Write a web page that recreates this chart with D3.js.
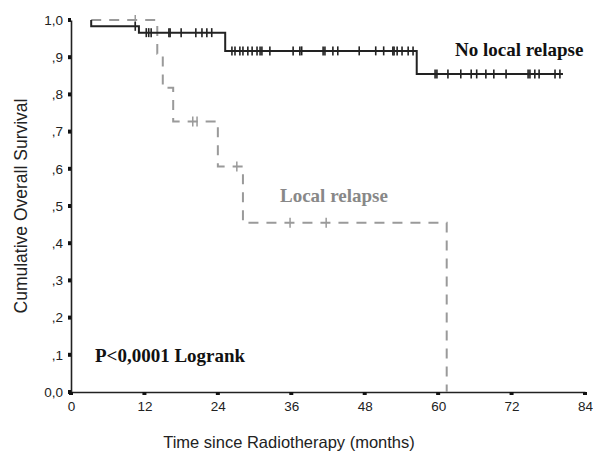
<!DOCTYPE html>
<html>
<head>
<meta charset="utf-8">
<script src="https://cdn.jsdelivr.net/npm/d3@7/dist/d3.min.js"></script>
<style>
  html, body { margin: 0; padding: 0; background: #fff; }
  svg { display: block; }
</style>
</head>
<body>
<svg id="chart" width="593" height="457"></svg>
<script>
// Kaplan-Meier steps: [time in months, survival after that time]
const noRelapseSteps = [[3.3, 1.0], [3.3, 0.983], [11.1, 0.966], [25.2, 0.917], [56.5, 0.855], [80.4, 0.855]];
const noRelapseCensored = [
  10.5, 12.3, 12.7, 13.1, 16.0, 16.2, 18.0, 20.4, 21.4, 22.2, 23.0,
  26.3, 26.8, 27.6, 28.1, 28.9, 29.6, 30.4, 30.9, 31.2, 32.5, 36.3, 37.4, 37.7,
  41.2, 41.5, 42.8, 43.6, 47.1, 49.8, 51.1, 52.6, 52.8, 53.3, 54.1, 55.1, 55.9,
  59.5, 59.8, 61.6, 63.7, 65.4, 66.3, 67.8, 69.1, 71.1, 74.7, 75.0, 75.8, 76.5, 79.1, 79.9
];
const relapseSteps = [[3.3, 1.0], [14.1, 0.909], [15.0, 0.818], [16.7, 0.727], [24.0, 0.606], [28.1, 0.455], [61.4, 0.0]];
const relapseCensored = [10.5, 19.9, 20.6, 27.1, 35.8, 41.7];

const xTicks = [0, 12, 24, 36, 48, 60, 72, 84];
const yTicks = [0, 0.1, 0.2, 0.3, 0.4, 0.5, 0.6, 0.7, 0.8, 0.9, 1.0];
const yTickLabels = ["0,0", ",1", ",2", ",3", ",4", ",5", ",6", ",7", ",8", ",9", "1,0"];

const svg = d3.select("#chart");
const x = d3.scaleLinear().domain([0, 84]).range([71, 585]);
const y = d3.scaleLinear().domain([0, 1]).range([392, 20]);

// survival value at time t for a step list (value before first step = first value)
function survAt(steps, t) {
  let v = steps[0][1];
  for (const [ti, si] of steps) { if (ti <= t) v = si; }
  return v;
}
function stepPath(steps) {
  const pts = [];
  pts.push([steps[0][0], steps[0][1]]);
  for (let i = 1; i < steps.length; i++) {
    pts.push([steps[i][0], steps[i - 1][1]]);
    pts.push([steps[i][0], steps[i][1]]);
  }
  return d3.line().x(d => x(d[0])).y(d => y(d[1]))(pts);
}

const sans = "Liberation Sans, Arial, sans-serif";
const serif = "Liberation Serif, Times New Roman, serif";

// axes
const xAxis = svg.append("g").attr("transform", `translate(0,${y(0)})`)
  .call(d3.axisBottom(x).tickValues(xTicks).tickSize(0).tickPadding(9).tickFormat(d3.format("d")));
const yAxis = svg.append("g").attr("transform", `translate(${x(0)},0)`)
  .call(d3.axisLeft(y).tickValues(yTicks).tickSize(0).tickPadding(8).tickFormat((d, i) => yTickLabels[i]));
[xAxis, yAxis].forEach(g => {
  g.select(".domain").attr("stroke", "#222").attr("stroke-width", 1.6);
  g.selectAll("text").attr("font-family", sans).attr("font-size", 13.5).attr("fill", "#222");
});
// small square tick markers
svg.append("g").selectAll("rect").data(xTicks).join("rect")
  .attr("x", d => x(d) - 2).attr("y", y(0)).attr("width", 4).attr("height", 3).attr("fill", "#111");
svg.append("g").selectAll("rect").data(yTicks).join("rect")
  .attr("x", x(0) - 3).attr("y", d => y(d) - 2).attr("width", 3).attr("height", 4).attr("fill", "#111");

// curves
svg.append("path").attr("d", stepPath(relapseSteps))
  .attr("fill", "none").attr("stroke", "#9a9a9a").attr("stroke-width", 2).attr("stroke-dasharray", "10,8");
svg.append("path").attr("d", stepPath(noRelapseSteps))
  .attr("fill", "none").attr("stroke", "#222").attr("stroke-width", 2);

// censor marks
svg.append("g").selectAll("line").data(relapseCensored).join("line")
  .attr("x1", d => x(d)).attr("x2", d => x(d))
  .attr("y1", d => y(survAt(relapseSteps, d)) - 5).attr("y2", d => y(survAt(relapseSteps, d)) + 5)
  .attr("stroke", "#9a9a9a").attr("stroke-width", 1.5);
svg.append("g").selectAll("line").data(noRelapseCensored).join("line")
  .attr("x1", d => x(d)).attr("x2", d => x(d))
  .attr("y1", d => y(survAt(noRelapseSteps, d)) - 4.5).attr("y2", d => y(survAt(noRelapseSteps, d)) + 4.5)
  .attr("stroke", "#222").attr("stroke-width", 1.6);

// annotations
svg.append("text").attr("x", 455).attr("y", 56).attr("font-family", serif)
  .attr("font-weight", "bold").attr("font-size", 19).attr("fill", "#111").text("No local relapse");
svg.append("text").attr("x", 280).attr("y", 202).attr("font-family", serif)
  .attr("font-weight", "bold").attr("font-size", 19).attr("fill", "#888").text("Local relapse");
svg.append("text").attr("x", 95).attr("y", 362).attr("font-family", serif)
  .attr("font-weight", "bold").attr("font-size", 19).attr("fill", "#111").text("P<0,0001 Logrank");

// axis titles
svg.append("text").attr("x", 289).attr("y", 448).attr("text-anchor", "middle")
  .attr("font-family", sans).attr("font-size", 16.5).attr("fill", "#222")
  .text("Time since Radiotherapy (months)");
svg.append("text").attr("transform", `translate(27,${(y(0) + y(1)) / 2}) rotate(-90)`)
  .attr("text-anchor", "middle")
  .attr("font-family", sans).attr("font-size", 17.5).attr("fill", "#222")
  .text("Cumulative Overall Survival");
</script>
</body>
</html>
